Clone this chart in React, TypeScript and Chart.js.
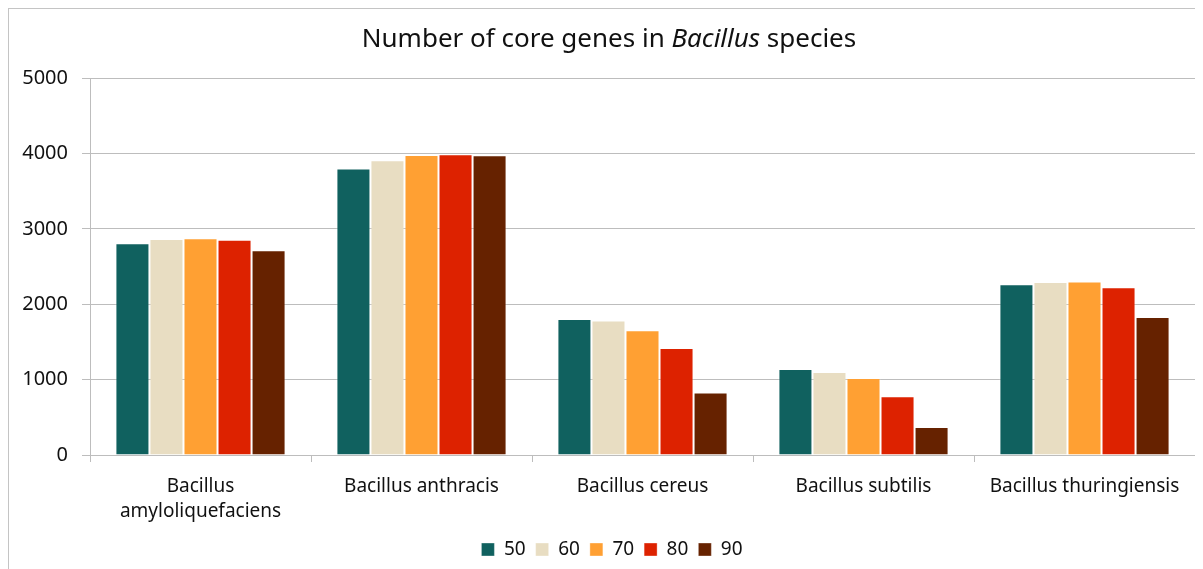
import React, { useEffect, useRef } from "react";
import { Chart, registerables } from "chart.js";

Chart.register(...registerables);

// Species on the category axis (first label wraps onto two lines)
const categories: (string | string[])[] = [
  ["Bacillus", "amyloliquefaciens"],
  "Bacillus anthracis",
  "Bacillus cereus",
  "Bacillus subtilis",
  "Bacillus thuringiensis",
];

// Identity thresholds shown in the legend
const seriesNames = ["50", "60", "70", "80", "90"];

// Core gene counts per threshold, one value per species
const core50 = [2810, 3800, 1805, 1140, 2265];
const core60 = [2865, 3910, 1785, 1100, 2295];
const core70 = [2875, 3980, 1655, 1020, 2300];
const core80 = [2855, 3990, 1420, 780, 2225];
const core90 = [2715, 3975, 830, 370, 1830];

const seriesValues = [core50, core60, core70, core80, core90];
const seriesColors = ["#10615f", "#e8ddc2", "#ffa033", "#dd2200", "#662200"];

const yMax = 5000;
const yStep = 1000;

const FONT = "'Noto Sans', 'Open Sans', sans-serif";
const GRID = "#bdbdbd";

// Title with the genus name set in italics
const titlePlugin = {
  id: "mixedTitle",
  afterLayout(chart: any) {
    // nudge the bottom legend slightly to the right of the canvas centre
    const lg = chart.legend;
    if (lg) {
      lg.left += 10;
      lg.right += 10;
    }
  },
  afterDraw(chart: Chart) {
    const ctx = chart.ctx;
    const parts: [string, boolean][] = [
      ["Number of core genes in ", false],
      ["Bacillus", true],
      [" species", false],
    ];
    ctx.save();
    ctx.fillStyle = "#111";
    ctx.textBaseline = "alphabetic";
    ctx.textAlign = "left";
    const fontFor = (it: boolean) => `${it ? "italic " : ""}26px ${FONT}`;
    let total = 0;
    for (const [t, it] of parts) {
      ctx.font = fontFor(it);
      total += ctx.measureText(t).width;
    }
    let x = 600 - total / 2;
    for (const [t, it] of parts) {
      ctx.font = fontFor(it);
      ctx.fillText(t, x, 38);
      x += ctx.measureText(t).width;
    }
    ctx.restore();
  },
};

export default function App() {
  const canvasRef = useRef<HTMLCanvasElement | null>(null);

  useEffect(() => {
    document.documentElement.style.overflow = "hidden";
    const canvas = canvasRef.current;
    if (!canvas) return;
    const chart = new Chart(canvas, {
      type: "bar",
      data: {
        labels: categories,
        datasets: seriesNames.map((name, i) => ({
          label: name,
          data: seriesValues[i],
          backgroundColor: seriesColors[i],
          borderColor: "rgba(255,255,255,0.35)",
          borderWidth: 1,
          categoryPercentage: 0.77,
          barPercentage: 1,
        })),
      },
      options: {
        responsive: false,
        animation: false,
        devicePixelRatio: 1,
        layout: { padding: { top: 69, right: 8, bottom: 0, left: 0 } },
        plugins: {
          title: { display: false },
          tooltip: { enabled: false },
          legend: {
            position: "bottom",
            labels: {
              boxWidth: 13,
              boxHeight: 13,
              padding: 10,
              color: "#111",
              font: { family: FONT, size: 19 },
            },
          },
        },
        scales: {
          x: {
            grid: {
              display: true,
              drawOnChartArea: false,
              drawTicks: true,
              tickLength: 7,
              color: GRID,
            },
            border: { display: true, color: GRID },
            ticks: {
              color: "#111",
              padding: 12,
              font: { family: FONT, size: 19, lineHeight: 1.33 },
              maxRotation: 0,
              autoSkip: false,
            },
            afterFit(scale: any) {
              scale.height = 75;
            },
          },
          y: {
            min: 0,
            max: yMax,
            grid: { color: GRID, tickLength: 8, drawTicks: true },
            border: { display: true, color: GRID },
            ticks: {
              stepSize: yStep,
              color: "#111",
              padding: 14,
              font: { family: FONT, size: 20 },
              callback: (v: any) => String(v),
            },
            afterFit(scale: any) {
              scale.width = 81;
            },
          },
        },
      },
      plugins: [titlePlugin],
    });
    return () => chart.destroy();
  }, []);

  return (
    <div
      style={{
        width: 1194,
        height: 560,
        borderTop: "1px solid #c4c4c4",
        borderLeft: "1px solid #c4c4c4",
        background: "#fff",
      }}
    >
      <canvas ref={canvasRef} width={1194} height={560} style={{ display: "block" }} />
    </div>
  );
}
